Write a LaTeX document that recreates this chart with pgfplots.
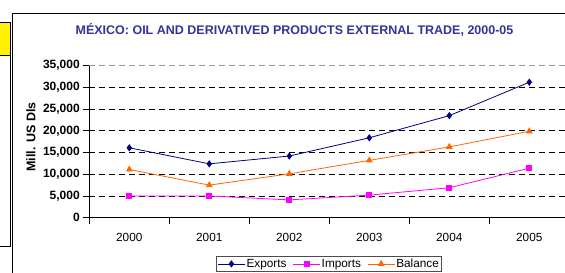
\documentclass[border=0pt]{standalone}
\usepackage{fontspec}
\setmainfont{Liberation Sans}
\usepackage{pgfplots}
\pgfplotsset{compat=1.18}
\definecolor{expc}{RGB}{0,0,128}
\definecolor{impc}{RGB}{255,0,255}
\definecolor{balc}{RGB}{255,102,0}
\definecolor{titc}{RGB}{51,51,153}
\begin{document}
\begin{tikzpicture}
\useasboundingbox (0pt,0pt) rectangle (565pt,273pt);
\clip (0pt,0pt) rectangle (565pt,273pt);
% frames
\draw[black, line width=0.9pt] (12.3pt,-5pt) -- (12.3pt,259.7pt) -- (580pt,259.7pt);
\draw[black, line width=0.9pt, fill=yellow] (-5pt,218pt) rectangle (10.3pt,250.3pt);
\draw[black, line width=0.9pt] (-5pt,27pt) rectangle (10.3pt,218pt);
% title
\node[anchor=base, text=titc, font=\fontsize{12.5}{14}\selectfont\bfseries, inner sep=0pt] at (294.5pt,238.7pt) {MÉXICO: OIL AND DERIVATIVED PRODUCTS EXTERNAL TRADE, 2000-05};
\node[rotate=90, font=\fontsize{12.5}{14}\selectfont\bfseries, inner sep=0pt] at (31pt,136pt) {Mill. US Dls};
\begin{axis}[
  at={(89.3pt,55.3pt)}, anchor=south west,
  scale only axis, width=480pt, height=152pt,
  xmin=-0.5, xmax=5.5, ymin=0, ymax=35000,
  axis lines*=left,
  axis line style={black, line width=0.9pt},
  tick align=outside,
  major tick length=6pt,
  tick style={black, line width=0.8pt},
  xtick={-0.5,0.5,1.5,2.5,3.5,4.5,5.5},
  xticklabels={},
  extra x ticks={0,1,2,3,4,5},
  extra x tick labels={2000,2001,2002,2003,2004,2005},
  extra x tick style={major tick length=0pt, xticklabel style={yshift=-12pt}, grid=none},
  ytick={0,5000,10000,15000,20000,25000,30000},
  extra y ticks={35000},
  extra y tick style={grid style={gray!80, dash pattern=on 6pt off 4pt, line width=0.9pt}},
  ymajorgrids,
  grid style={black, dash pattern=on 6pt off 4pt, line width=0.8pt},
  /pgf/number format/assume math mode=true,
  /pgf/number format/1000 sep={,},
  scaled y ticks=false,
  yticklabel style={font=\fontsize{12}{14}\selectfont\bfseries},
  xticklabel style={font=\fontsize{11.8}{14}\selectfont},
  legend columns=3,
  legend style={at={(0.499,-0.252)}, anchor=north, draw=black!70, line width=0.8pt,
    font=\fontsize{11.8}{14}\selectfont, inner xsep=1pt, inner ysep=1pt,
    nodes={inner xsep=1.2pt, inner ysep=1.5pt},
    /tikz/every even column/.append style={column sep=5pt}},
  legend image code/.code={\draw[mark repeat=2, mark phase=2, #1] plot coordinates {(0pt,0pt) (13.5pt,0pt) (27pt,0pt)};},
  clip=false,
]
\addplot[expc, line width=0.8pt, mark=diamond*, mark size=3pt, mark options={solid, fill=expc}] coordinates {(0,16100) (1,12400) (2,14200) (3,18400) (4,23500) (5,31200)};
\addlegendentry{Exports}
\addplot[impc, line width=0.8pt, mark=square*, mark size=2.5pt, mark options={solid, fill=impc}] coordinates {(0,5000) (1,5000) (2,4100) (3,5200) (4,6900) (5,11400)};
\addlegendentry{Imports}
\addplot[balc, line width=0.8pt, mark=triangle*, mark size=3.2pt, mark options={solid, fill=balc}] coordinates {(0,11100) (1,7500) (2,10100) (3,13200) (4,16300) (5,19900)};
\addlegendentry{Balance}
\end{axis}
\end{tikzpicture}
\end{document}
